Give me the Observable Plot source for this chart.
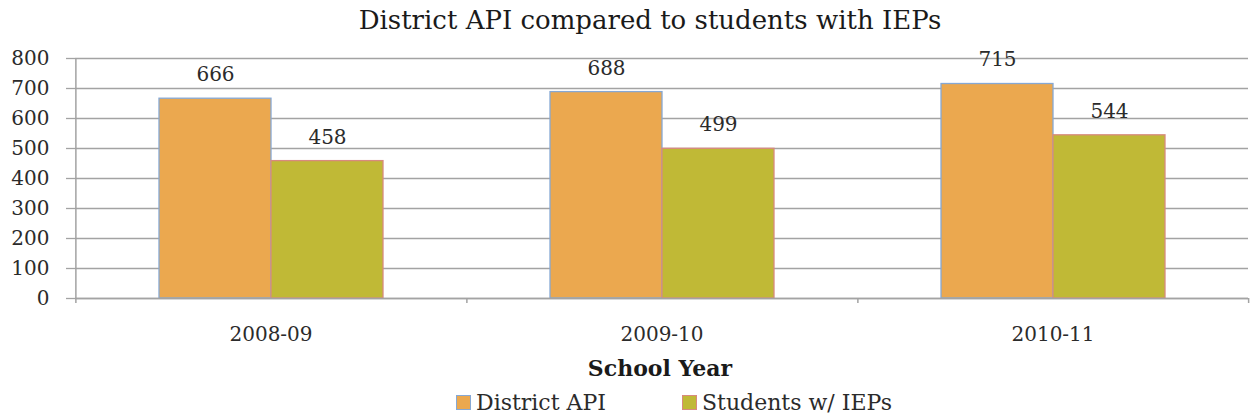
<!DOCTYPE html>
<html>
<head>
<meta charset="utf-8">
<script src="https://cdn.jsdelivr.net/npm/d3@7"></script>
<script src="https://cdn.jsdelivr.net/npm/@observablehq/plot@0.6"></script>
<style>
  body { margin: 0; background: #fff; font-family: "DejaVu Serif", serif; color: #2b2b2b; }
  #wrap { width: 1250px; height: 417px; position: relative; overflow: hidden; background: #fff; }
  #title { position: absolute; left: 0; top: 0; width: 1300px; height: 40px; line-height: 40px;
           text-align: center; font-size: 26px; color: #1a1a1a; }
  #chart { position: absolute; left: 0; top: 40px; }
  #xlabel { position: absolute; left: 0; top: 350px; width: 1320px; height: 36px; line-height: 36px;
            text-align: center; font-size: 22px; font-weight: bold; color: #1a1a1a; }
  #legend { position: absolute; left: 0; top: 386px; width: 1250px; height: 31px; }
  .item { position: absolute; top: 0; height: 31px; line-height: 34px; font-size: 22px; white-space: nowrap; }
  .sw { position: absolute; top: 9px; width: 13px; height: 13px; border: 1.5px solid; }
</style>
</head>
<body>
<div id="wrap">
  <div id="title"></div>
  <div id="chart"></div>
  <div id="xlabel"></div>
  <div id="legend"></div>
</div>
<script>
// ---- data ----
const title = "District API compared to students with IEPs";
const xAxisLabel = "School Year";
const years = ["2008-09", "2009-10", "2010-11"];
const seriesNames = ["District API", "Students w/ IEPs"];
const districtAPI = [666, 688, 715];
const studentsIEPs = [458, 499, 544];
const yTicks = [0, 100, 200, 300, 400, 500, 600, 700, 800];

// ---- styles / layout ----
const fills = ["#EBA84F", "#C0B936"];
const strokes = ["#86A8D4", "#D88A7E"];
const gridColor = "#a3a3a3";
const W = 1250, H = 310, mL = 74, mR = 1, mT = 18, mB = 52;
const outerPad = 0.742;
const facetW = (W - mL - mR) / years.length;
const step = facetW / (seriesNames.length + 2 * outerPad);
const edgeOffset = outerPad * step + step / 2; // from first/last bar centre to facet edge
const frameH = H - mT - mB;

const rows = [];
years.forEach((y, i) => {
  rows.push({year: y, series: seriesNames[0], value: districtAPI[i]});
  rows.push({year: y, series: seriesNames[1], value: studentsIEPs[i]});
});
const firstBars = rows.filter(d => d.series === seriesNames[0]);
const secondBars = rows.filter(d => d.series === seriesNames[1]);

document.getElementById("title").textContent = title;
document.getElementById("xlabel").textContent = xAxisLabel;

const chart = Plot.plot({
  width: W,
  height: H,
  marginLeft: mL,
  marginRight: mR,
  marginTop: mT,
  marginBottom: mB,
  style: { fontFamily: "DejaVu Serif, serif", fontSize: "20px", color: "#2b2b2b", background: "white", overflow: "visible" },
  fx: { domain: years, padding: 0, label: null, axis: "bottom", tickSize: 0, tickPadding: 28 },
  x: { domain: seriesNames, paddingInner: 0, paddingOuter: outerPad, axis: null },
  y: { domain: [0, 800], axis: null },
  marks: [
    Plot.gridY(yTicks, { stroke: gridColor, strokeOpacity: 1, strokeWidth: 1.3 }),
    Plot.axisY(yTicks, { tickSize: 9, tickPadding: 17, stroke: gridColor, strokeWidth: 1.3, label: null, fontSize: 20 }),
    Plot.barY(firstBars, { fx: "year", x: "series", y: "value", fill: fills[0], stroke: strokes[0], strokeWidth: 1.3 }),
    Plot.barY(secondBars, { fx: "year", x: "series", y: "value", fill: fills[1], stroke: strokes[1], strokeWidth: 1.3 }),
    Plot.text(rows, { fx: "year", x: "series", y: "value", text: d => String(d.value), dy: -24, lineAnchor: "middle", fontSize: 20 }),
    Plot.ruleY([0], { stroke: gridColor, strokeWidth: 1.5 }),
    // y axis line (first facet only)
    Plot.ruleX(firstBars.slice(0, 1), { fx: "year", x: "series", dx: -edgeOffset, stroke: gridColor, strokeWidth: 1.5 }),
    // category boundary ticks below the x axis
    Plot.ruleX(firstBars, { fx: "year", x: "series", dx: -edgeOffset, insetTop: frameH, insetBottom: -5, stroke: gridColor, strokeWidth: 1.5 }),
    Plot.ruleX(secondBars.slice(-1), { fx: "year", x: "series", dx: edgeOffset - 0.5, insetTop: frameH, insetBottom: -5, stroke: gridColor, strokeWidth: 1.5 })
  ]
});
document.getElementById("chart").appendChild(chart);

// legend
const legend = document.getElementById("legend");
const legendPos = [456, 682];
seriesNames.forEach((name, i) => {
  const sw = document.createElement("div");
  sw.className = "sw";
  sw.style.left = legendPos[i] + "px";
  sw.style.background = fills[i];
  sw.style.borderColor = strokes[i];
  legend.appendChild(sw);
  const t = document.createElement("div");
  t.className = "item";
  t.style.left = (legendPos[i] + 20) + "px";
  t.textContent = name;
  legend.appendChild(t);
});
</script>
</body>
</html>
